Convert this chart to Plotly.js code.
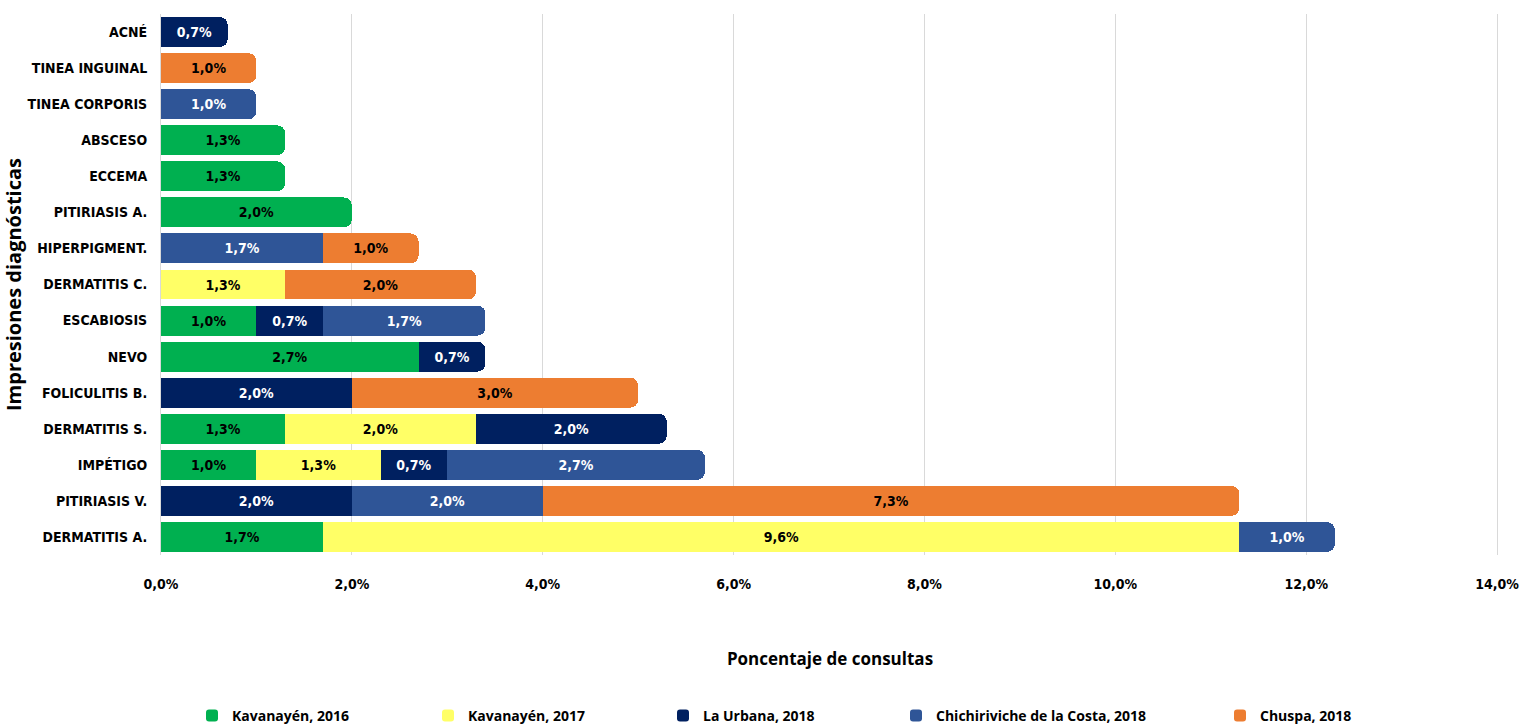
<!DOCTYPE html>
<html><head><meta charset="utf-8">
<script src="https://cdn.plot.ly/plotly-3.0.1.min.js"></script>
<style>html,body{margin:0;padding:0;background:#fff}#chart{width:1522px;height:727px}</style>
</head><body><div id="chart"></div>
<script>
const categories = ["DERMATITIS A.","PITIRIASIS V.","IMPÉTIGO","DERMATITIS S.","FOLICULITIS B.","NEVO","ESCABIOSIS","DERMATITIS C.","HIPERPIGMENT.","PITIRIASIS A.","ECCEMA","ABSCESO","TINEA CORPORIS","TINEA INGUINAL","ACNÉ"];
const seriesNames = ["Kavanayén, 2016","Kavanayén, 2017","La Urbana, 2018","Chichiriviche de la Costa, 2018","Chuspa, 2018"];
const kavanayen2016 = [1.7, null, 1.0, 1.3, null, 2.7, 1.0, null, null, 2.0, 1.3, 1.3, null, null, null];
const kavanayen2017 = [9.6, null, 1.3, 2.0, null, null, null, 1.3, null, null, null, null, null, null, null];
const laUrbana2018 = [null, 2.0, 0.7, 2.0, 2.0, 0.7, 0.7, null, null, null, null, null, null, null, 0.7];
const chichiriviche2018 = [1.0, 2.0, 2.7, null, null, null, 1.7, null, 1.7, null, null, null, 1.0, null, null];
const chuspa2018 = [null, 7.3, null, null, 3.0, null, null, 2.0, 1.0, null, null, null, null, 1.0, null];
const xTicks = [0, 2, 4, 6, 8, 10, 12, 14];
const xTickText = ["0,0%", "2,0%", "4,0%", "6,0%", "8,0%", "10,0%", "12,0%", "14,0%"];

const seriesValues = [kavanayen2016, kavanayen2017, laUrbana2018, chichiriviche2018, chuspa2018];
const colors = ["#00B050", "#FFFF66", "#002060", "#2F5597", "#ED7D31"];
const textColors = ["#000", "#000", "#fff", "#fff", "#000"];
const legendNames = ["legend", "legend2", "legend3", "legend4", "legend5"];
const legendPx = [192, 428, 663, 896, 1220];

const NARROW = '"DejaVu Sans Condensed", "Liberation Sans Narrow", sans-serif';
const SANS = '"Open Sans", "Noto Sans", sans-serif';
const L = 161, R = 23, W = 1522;
const plotW = W - L - R;

const traces = seriesValues.map((vals, i) => ({
  type: 'bar',
  orientation: 'h',
  name: seriesNames[i],
  y: categories,
  x: vals,
  legend: legendNames[i],
  marker: {color: colors[i], cornerradius: 8, line: {width: 0}},
  texttemplate: '%{x:.1f}%',
  textposition: 'inside',
  insidetextanchor: 'middle',
  textangle: 0,
  insidetextfont: {family: NARROW, size: 14, color: textColors[i], weight: 'bold'},
  hoverinfo: 'skip'
}));

const layout = {
  width: 1522, height: 727,
  margin: {l: L, r: R, t: 14, b: 172, autoexpand: false},
  barmode: 'stack',
  bargap: 0.17,
  separators: ',.',
  paper_bgcolor: '#fff', plot_bgcolor: '#fff',
  font: {family: NARROW, color: '#000'},
  xaxis: {
    range: [0, 14.02],
    tickmode: 'array',
    tickvals: xTicks,
    ticktext: xTickText,
    showgrid: true, gridcolor: '#d9d9d9', gridwidth: 1,
    zeroline: false,
    ticks: '',
    ticklabelstandoff: 19,
    ticklabeloverflow: 'allow',
    tickfont: {family: NARROW, size: 14, color: '#000', weight: 'bold'},
    title: {text: 'Poncentaje de consultas', standoff: 62,
      font: {family: SANS, size: 17, color: '#000', weight: 'bold'}},
    fixedrange: true
  },
  yaxis: {
    categoryorder: 'array', categoryarray: categories,
    showline: true, linecolor: '#d9d9d9', linewidth: 1,
    ticks: '',
    ticklabelstandoff: 10,
    tickfont: {family: NARROW, size: 14, color: '#000', weight: 'bold'},
    title: {text: 'Impresiones diagnósticas', standoff: 115,
      font: {family: SANS, size: 20, color: '#000', weight: 'bold'}},
    fixedrange: true
  },
  showlegend: true
};
legendNames.forEach((ln, i) => {
  layout[ln] = {
    orientation: 'h',
    x: (legendPx[i] - L) / plotW,
    xanchor: 'left',
    yref: 'container',
    y: 11 / 727,
    yanchor: 'middle',
    bgcolor: 'rgba(0,0,0,0)',
    itemwidth: 30,
    font: {family: SANS, size: 14, color: '#000', weight: 'bold'}
  };
});

Plotly.newPlot('chart', traces, layout, {displayModeBar: false, staticPlot: true});
</script>
</body></html>
